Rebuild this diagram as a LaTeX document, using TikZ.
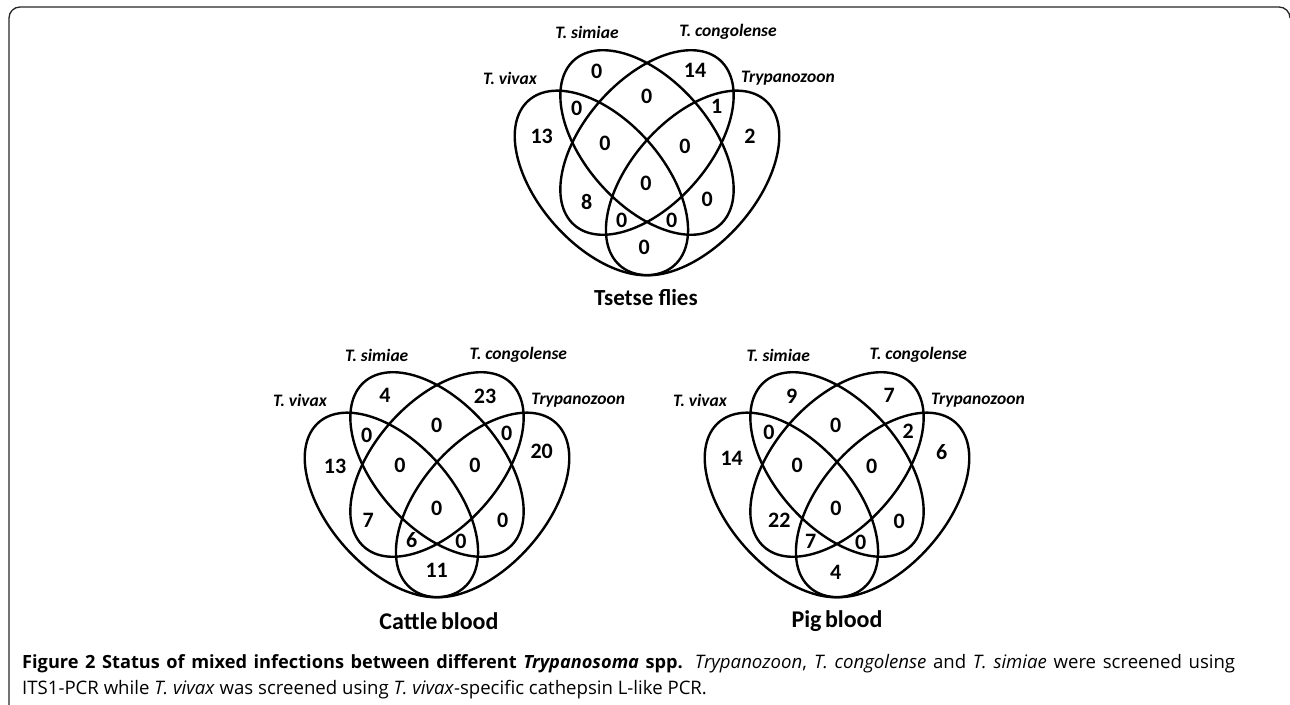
\documentclass[tikz,border=0pt]{standalone}
\usepackage{fontspec}
\setmainfont{Carlito}
\newfontfamily\capfont{Open Sans}
\newcommand\vennellipses[2]{%
  \begin{scope}[shift={(#1,#2)}, x=1pt, y=1pt, xscale=304, yscale=323.7]
    \draw[vline, shift={(0.35,0.445)}, rotate=-45] (0,0) ellipse [x radius=0.35, y radius=0.2];
    \draw[vline, shift={(0.5,0.57)}, rotate=-45] (0,0) ellipse [x radius=0.35, y radius=0.2];
    \draw[vline, shift={(0.5,0.57)}, rotate=45] (0,0) ellipse [x radius=0.35, y radius=0.2];
    \draw[vline, shift={(0.65,0.445)}, rotate=45] (0,0) ellipse [x radius=0.35, y radius=0.2];
  \end{scope}}
\begin{document}
\begin{tikzpicture}[x=1pt,y=-1pt,
  vline/.style={line width=2.4pt, black},
  frameline/.style={line width=1.3pt, black!85},
  num/.style={font=\bfseries\fontsize{22}{22}\selectfont, inner sep=0pt},
  lab/.style={font=\bfseries\itshape\fontsize{17.5}{18}\selectfont, inner sep=0pt},
  ttl/.style={font=\bfseries\fontsize{23}{24}\selectfont, inner sep=0pt},
  ttlb/.style={font=\bfseries\fontsize{24}{24}\selectfont, inner sep=0pt},
  captext/.style={font=\capfont\fontsize{18.6}{20}\selectfont, inner sep=0pt, anchor=base west}]
\useasboundingbox (0,0) rectangle (1290,704);
\draw[frameline] (9,710) -- (9,18) arc[start angle=180,end angle=270,radius=11] -- (1279,7) arc[start angle=270,end angle=360,radius=11];
% ellipses
\vennellipses{495}{327}
\vennellipses{285}{649}
\vennellipses{685}{649}
% top venn
\node[lab] (tl1) at (587,32) {T. simiae};
\node[lab] (tl2) at (728,32) {T. congolense};
\node[lab] (tl3) at (510,78) {T. vivax};
\node[lab] (tl4) at (788,78) {Trypanozoon};
\node[num] (t1) at (541.7,136.7) {13};
\node[num] (t2) at (596.7,71.7) {0};
\node[num] (t3) at (695,70) {14};
\node[num] (t4) at (750,136.7) {2};
\node[num] (t5) at (576.7,108.3) {0};
\node[num] (t6) at (646.7,96.7) {0};
\node[num] (t7) at (716.7,106.7) {1};
\node[num] (t8) at (605,143.3) {0};
\node[num] (t9) at (685,146.7) {0};
\node[num] (t10) at (646,183.3) {0};
\node[num] (t11) at (586.7,201.7) {8};
\node[num] (t12) at (707.3,199.3) {0};
\node[num] (t13) at (621.7,220) {0};
\node[num] (t14) at (671.7,220) {0};
\node[num] (t15) at (644.3,247.7) {0};
\node[ttl] (tt) at (646,298) {Tsetse flies};
% cattle
\node[lab] (cl1) at (376.7,355) {T. simiae};
\node[lab] (cl2) at (518.3,355) {T. congolense};
\node[lab] (cl3) at (300,400) {T. vivax};
\node[lab] (cl4) at (578.3,400) {Trypanozoon};
\node[num] (c1) at (385,395) {4};
\node[num] (c2) at (485,396.7) {23};
\node[num] (c3) at (335,466.7) {13};
\node[num] (c4) at (541.7,451.7) {20};
\node[num] (c5) at (366.7,435) {0};
\node[num] (c6) at (436.7,425) {0};
\node[num] (c7) at (506.7,433.3) {0};
\node[num] (c8) at (400,465) {0};
\node[num] (c9) at (475,465) {0};
\node[num] (c10) at (436.7,508.3) {0};
\node[num] (c11) at (368.3,520) {7};
\node[num] (c12) at (502.7,520) {0};
\node[num] (c13) at (411.7,540) {6};
\node[num] (c14) at (461,541.7) {0};
\node[num] (c15) at (436.7,570) {11};
\node[ttlb] (ct) at (439,621) {Cattle\hspace{3.5pt}blood};
% pig
\node[lab] (pl1) at (778.3,355) {T. simiae};
\node[lab] (pl2) at (918.3,355) {T. congolense};
\node[lab] (pl3) at (700,400) {T. vivax};
\node[lab] (pl4) at (978,400) {Trypanozoon};
\node[num] (p1) at (791.7,396.7) {9};
\node[num] (p2) at (889.3,395) {7};
\node[num] (p3) at (731.7,458.3) {14};
\node[num] (p4) at (941.7,451.7) {6};
\node[num] (p5) at (769,432.7) {0};
\node[num] (p6) at (835.7,425) {0};
\node[num] (p7) at (908.3,431.7) {2};
\node[num] (p8) at (797.3,465) {0};
\node[num] (p9) at (871.7,466) {0};
\node[num] (p10) at (836,508.3) {0};
\node[num] (p11) at (779.3,520) {22};
\node[num] (p12) at (899.3,521) {0};
\node[num] (p13) at (810.7,541.7) {7};
\node[num] (p14) at (860.7,542.7) {0};
\node[num] (p15) at (835.7,572.7) {4};
\node[ttlb] (pt) at (837,621) {Pig\hspace{3.5pt}blood};
% caption (first line justified)
\node[captext] (cap1) at (22,668) {\hbox to 1213pt{{\bfseries\fontsize{18.2}{20}\selectfont Figure 2 Status of mixed infections between different \textit{Trypanosoma} spp.} \textit{Trypanozoon}, \textit{T. congolense} and \textit{T. simiae} were screened using}};
\node[captext] (cap2) at (22,694) {ITS1-PCR while \textit{T. vivax} was screened using \textit{T. vivax}-specific cathepsin L-like PCR.};
\end{tikzpicture}
\end{document}
